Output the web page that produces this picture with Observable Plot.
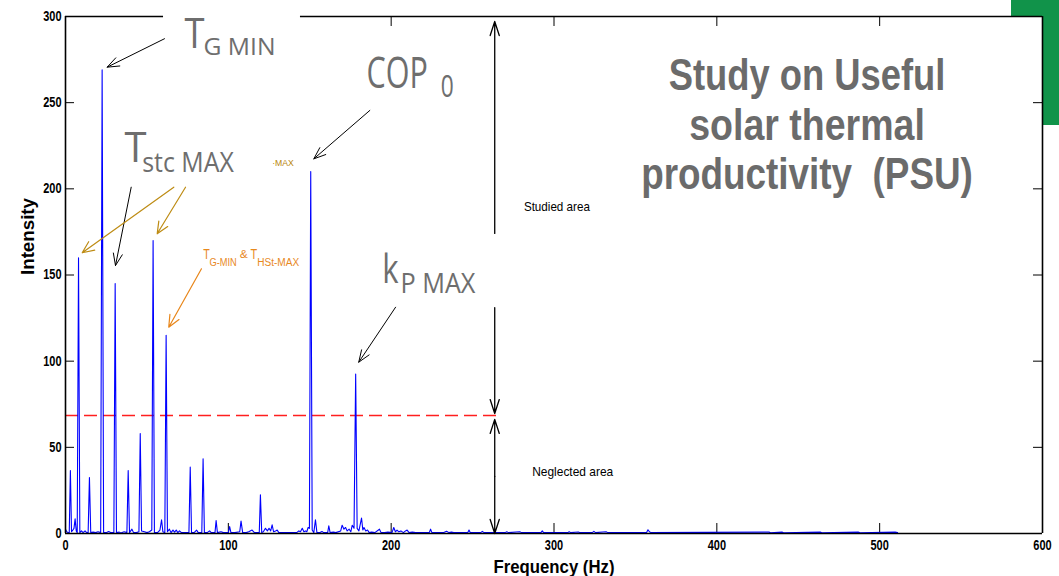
<!DOCTYPE html>
<html><head><meta charset="utf-8">
<script src="https://cdn.jsdelivr.net/npm/d3@7"></script>
<script src="https://cdn.jsdelivr.net/npm/@observablehq/plot@0.6"></script>
<style>
html,body{margin:0;padding:0;background:#fff;}
#wrap{position:relative;width:1059px;height:576px;overflow:hidden;}
#green{position:absolute;left:1011px;top:0;width:48px;height:125px;background:#11934a;}
#chart{position:absolute;left:0;top:0;}
svg text{white-space:pre;}
</style></head><body>
<div id="wrap"><div id="green"></div><div id="chart"></div></div>
<script>
// ---- data ----
const xTicks = [0, 100, 200, 300, 400, 500, 600];
const yTicks = [0, 50, 100, 150, 200, 250, 300];
const threshold = 68.5;          // separation studied / neglected
const thresholdEnd = 265.1;      // Hz where the dashed line stops
const freqHz = [
  0, 0.8, 1.5, 2.3, 3.0, 3.7, 4.5, 5.2, 5.9, 6.6, 7.2, 8.0, 8.8, 9.8, 10.8, 12, 13, 13.9, 14.7, 15.5,
  17, 18.5, 20, 21.6, 22.5, 23.4, 25, 26.5, 28, 29.7, 30.5, 31.3, 33, 34, 36, 37.7, 38.5, 39.3, 40.8, 41.8,
  43.5, 45.1, 45.9, 46.7, 48.5, 50, 51.5, 53, 53.8, 54.6, 56.5, 58, 59.0, 59.8, 61, 61.8, 62.6, 63.8, 64.8, 66,
  67, 68, 69, 70, 71.2, 75.8, 76.6, 77.4, 79, 80.5, 81.5, 83.7, 84.5, 85.3, 87, 88.5, 89.5, 91.8, 92.5, 93.3,
  95.5, 97, 100, 100.8, 101.6, 104, 107, 107.8, 108.8, 111, 112.5, 114.6, 116, 119, 119.7, 120.5, 121.5, 122.8, 124, 125,
  126, 126.9, 127.8, 129, 130, 131, 142, 143.3, 144.3, 145.4, 146.4, 147.4, 148.2, 149, 149.8, 150.6, 151.5, 152.5, 153.5, 154.4,
  156, 157.5, 158.5, 161, 161.7, 162.5, 164.5, 166, 169, 169.9, 171, 172, 173, 174.2, 175.2, 176.1, 177.2, 178.2, 179.1, 180.2,
  181.8, 182.6, 183.3, 184.4, 185.5, 186.5, 188, 190, 192.8, 193.8, 196, 198, 200.5, 201.6, 202.6, 203.6, 204.7, 206, 207.5, 208.8,
  209.8, 211, 213, 215, 223.4, 224.2, 225, 232, 234, 235.5, 237, 238.5, 247, 247.8, 248.6, 255, 256, 257, 270, 271,
  272, 279, 280, 292, 292.8, 293.6, 308.5, 309.3, 310.3, 315, 316, 323.5, 324.5, 325.5, 332, 333, 356.8, 357.7, 358.6, 359.5,
  432, 433, 440, 441, 463.5, 464.5, 486.8, 488, 509.5, 511
];
const intensity = [
  2.5, 1, 0.5, 0.5, 36.5, 1, 2, 3, 8.5, 1.5, 0.5, 160, 0.5, 1.5, 0.5, 1.5, 0.5, 0.5, 32.5, 0.5,
  0.8, 0.5, 1, 0.5, 269, 0.5, 0.5, 1.2, 0.5, 0.5, 145, 0.5, 0.8, 0.3, 1, 0.5, 36.5, 0.5, 2.5, 0.5,
  0.5, 1, 58, 1.5, 1, 0.5, 1, 2, 170, 0.5, 0.5, 2, 8, 1, 0.5, 115, 1, 2.5, 0.5, 2,
  0.8, 2, 0.5, 1.5, 0.5, 0.5, 38.5, 0.5, 0.5, 2, 0.5, 0.5, 43.3, 0.5, 0.5, 1.5, 0.5, 0.5, 7.5, 0.5,
  1, 0.5, 0.5, 4, 0.5, 0.5, 1, 7.2, 0.5, 0.5, 1, 2, 0.5, 0.5, 22.5, 0.5, 1, 3, 1.5, 3,
  1.5, 5, 1, 1.5, 2, 0.5, 0.5, 1.5, 1, 3, 1, 1.5, 1, 3.5, 3, 210, 2, 0.5, 8, 0.5,
  0.5, 1.2, 0.5, 0.5, 4.5, 0.5, 0.8, 0.5, 1.5, 4.8, 2.5, 3.5, 1.5, 2.5, 1, 4.8, 3, 92.5, 3, 1.5,
  9, 2, 3.5, 1.5, 2, 0.5, 0.8, 0.5, 2.5, 0.5, 0.5, 0.8, 0.5, 3.5, 1, 2, 1, 1.5, 0.5, 1.5,
  2, 0.5, 0.8, 0.5, 0.5, 2.5, 0.5, 0.5, 1.3, 0.5, 0.8, 0.5, 0.5, 2, 0.5, 0.5, 1.2, 0.5, 0.5, 1,
  0.5, 1, 0.5, 0.5, 1.5, 0.5, 0.5, 1, 0.5, 0.9, 0.5, 0.5, 1.2, 0.5, 1, 0.5, 0.5, 2.2, 1, 0.5,
  0.8, 0.4, 0.8, 0.4, 0.8, 0.4, 0.8, 0.4, 0.8, 0.5
];
const xAxisTitle = "Frequency (Hz)";
const yAxisTitle = "Intensity";
const titleLines = ["Study on Useful", "solar thermal", "productivity  (PSU)"];

// ---- annotations (data coordinates) ----
const grayLabels = [
  {x: 73.1, y: 282.0, t: "T", s: 42, w: 20},
  {x: 84.75, y: 277.4, t: "G MIN", s: 23.5, w: 72},
  {x: 36.2, y: 215.5, t: "T", s: 42, w: 22},
  {x: 47.1, y: 209.7, t: "stc MAX", s: 28, w: 91.6},
  {x: 184.9, y: 258.6, t: "COP", s: 43, w: 61.3},
  {x: 230.5, y: 253.2, t: "0", s: 31.7, w: 13},
  {x: 194.5, y: 145.1, t: "k", s: 41, w: 16.3},
  {x: 205.7, y: 139.4, t: "P MAX", s: 27.5, w: 75}
];
const colorLabels = [
  {x: 126.9, y: 213.5, t: "·MAX", s: 9, w: 21.6, c: "#b8860b"},
  {x: 84.6, y: 159.2, t: "T", s: 14.4, w: 6.5, c: "#e8891e"},
  {x: 88.4, y: 155.5, t: "G-MIN", s: 10, w: 27.3, c: "#e8891e"},
  {x: 107.0, y: 159.8, t: "&", s: 10, w: 8, c: "#e8891e"},
  {x: 113.6, y: 159.2, t: "T", s: 14.4, w: 6.7, c: "#e8891e"},
  {x: 117.7, y: 155.5, t: "HSt-MAX", s: 10, w: 42, c: "#e8891e"}
];
const areaLabels = [
  {x: 281.5, y: 187.4, t: "Studied area", s: 13, w: 66},
  {x: 286.6, y: 33.25, t: "Neglected area", s: 13.5, w: 81}
];
const titleRows = [
  {x: 455.4, y: 257.1, t: titleLines[0], w: 276.7},
  {x: 455.4, y: 228.1, t: titleLines[1], w: 235.7},
  {x: 455.4, y: 200.1, t: titleLines[2], w: 331.7}
];
const blackArrows = [
  {x1: 60.8, y1: 287.1, x2: 25.6, y2: 270.6},
  {x1: 40.35, y1: 200.95, x2: 30.7, y2: 155.5},
  {x1: 186.9, y1: 245.5, x2: 152.5, y2: 217.4},
  {x1: 202.7, y1: 131.3, x2: 180.1, y2: 99.4}
];
const goldArrows = [
  {x1: 66.5, y1: 200.95, x2: 10.26, y2: 162.9},
  {x1: 73.7, y1: 200.95, x2: 56.3, y2: 173.9}
];
const orangeArrows = [
  {x1: 83.5, y1: 153.6, x2: 63.4, y2: 119.7}
];
const areaArrows = [
  {x1: 263.6, y1: 174.1, x2: 263.6, y2: 297.1},
  {x1: 263.6, y1: 131.1, x2: 263.6, y2: 69.6},
  {x1: 263.6, y1: 33.1, x2: 263.6, y2: 66.2},
  {x1: 263.6, y1: 33.1, x2: 263.6, y2: 0}
];
const topFrame = [{a: 0, b: 60.2}, {a: 144.3, b: 600}];

// ---- layout ----
const W = 1059, H = 576, mL = 65, mR = 17, mT = 16, mB = 43;
const pw = W - mL - mR, ph = H - mT - mB;
const spectrum = freqHz.map((f, i) => ({f, v: intensity[i]}));
const topTicks = xTicks.filter(t => topFrame.some(s => t >= s.a && t <= s.b));
const tickFont = "Liberation Sans, Arial, sans-serif";

const svg = Plot.plot({
  width: W, height: H,
  marginLeft: mL, marginRight: mR, marginTop: mT, marginBottom: mB,
  style: {background: "transparent", overflow: "visible", fontFamily: tickFont, fontSize: "14px", fontWeight: "bold", color: "black"},
  x: {domain: [0, 600]},
  y: {domain: [0, 300]},
  marks: [
    Plot.frame({fill: "white", stroke: "none"}),
    // inward ticks
    Plot.ruleX(xTicks, {x: d => d, insetTop: ph - 10, stroke: "black", strokeWidth: 1}),
    Plot.ruleX(topTicks, {x: d => d, insetBottom: ph - 10, stroke: "black", strokeWidth: 1}),
    Plot.ruleY(yTicks, {y: d => d, insetRight: pw - 9, stroke: "black", strokeWidth: 1}),
    Plot.ruleY(yTicks, {y: d => d, insetLeft: pw - 9, stroke: "black", strokeWidth: 1}),
    // threshold
    Plot.ruleY([threshold], {x1: 0, x2: thresholdEnd, stroke: "#ff1f1f", strokeWidth: 1.4, strokeDasharray: "13,6"}),
    // spectrum
    Plot.line(spectrum, {x: "f", y: "v", stroke: "#0000ff", strokeWidth: 1.1}),
    // frame lines
    Plot.ruleY([0], {stroke: "black", strokeWidth: 1.6}),
    Plot.ruleX([0, 600], {stroke: "black", strokeWidth: 1.6}),
    Plot.ruleY(topFrame, {y: 300, x1: "a", x2: "b", stroke: "black", strokeWidth: 1.6}),
    // axes
    Plot.axisX(xTicks, {anchor: "bottom", tickSize: 0, tickPadding: 7, label: null, fontSize: 14, fontWeight: "bold", fontFamily: tickFont}),
    Plot.axisY(yTicks, {anchor: "left", tickSize: 0, tickPadding: 4, label: null, fontSize: 14, fontWeight: "bold", fontFamily: tickFont}),
    Plot.text([xAxisTitle], {frameAnchor: "bottom", dy: 39, lineAnchor: "bottom", fontSize: 17.5, fontWeight: "bold", fontFamily: tickFont, fill: "black", ariaDescription: "xtitle"}),
    Plot.text([yAxisTitle], {frameAnchor: "left", dx: -36.7, rotate: -90, fontSize: 17.5, fontWeight: "bold", fontFamily: tickFont, fill: "black", ariaDescription: "ytitle"}),
    // arrows
    Plot.arrow(blackArrows, {x1: "x1", y1: "y1", x2: "x2", y2: "y2", stroke: "black", strokeWidth: 1, headLength: 19, headAngle: 42}),
    Plot.arrow(goldArrows, {x1: "x1", y1: "y1", x2: "x2", y2: "y2", stroke: "#be8c14", strokeWidth: 1.2, headLength: 16, headAngle: 48}),
    Plot.arrow(orangeArrows, {x1: "x1", y1: "y1", x2: "x2", y2: "y2", stroke: "#e8861a", strokeWidth: 1.2, headLength: 16, headAngle: 48}),
    Plot.arrow(areaArrows, {x1: "x1", y1: "y1", x2: "x2", y2: "y2", stroke: "black", strokeWidth: 1.3, headLength: 17, headAngle: 36}),
    // labels
    Plot.text(grayLabels, {x: "x", y: "y", text: "t", fontSize: "s", textAnchor: "start", lineAnchor: "bottom", fill: "#6e6e6e", fontFamily: "Open Sans, Lato, sans-serif", fontWeight: "normal", ariaDescription: "gray"}),
    Plot.text(colorLabels, {x: "x", y: "y", text: "t", fontSize: "s", fill: "c", textAnchor: "start", lineAnchor: "bottom", fontFamily: tickFont, fontWeight: "normal", ariaDescription: "color"}),
    Plot.text(areaLabels, {x: "x", y: "y", text: "t", fontSize: "s", textAnchor: "start", lineAnchor: "bottom", fill: "black", fontFamily: tickFont, fontWeight: "normal", ariaDescription: "area"}),
    Plot.text(titleRows, {x: "x", y: "y", text: "t", fontSize: 44, textAnchor: "middle", lineAnchor: "bottom", fill: "#6b6b6b", fontFamily: tickFont, fontWeight: "bold", ariaDescription: "title"})
  ]
});
document.getElementById("chart").appendChild(svg);

// fit text widths to the reference's condensed lettering
function fit(desc, rows) {
  svg.querySelectorAll(`g[aria-description="${desc}"] text`).forEach((n, i) => {
    if (rows[i] && rows[i].w) { n.setAttribute("textLength", rows[i].w); n.setAttribute("lengthAdjust", "spacingAndGlyphs"); }
  });
}
fit("gray", grayLabels); fit("color", colorLabels); fit("area", areaLabels); fit("title", titleRows);
fit("xtitle", [{w: 121}]); fit("ytitle", [{w: 77}]);
svg.querySelectorAll('g[aria-label="x-axis tick label"] text, g[aria-label="y-axis tick label"] text').forEach(n => {
  const len = n.textContent.length;
  n.setAttribute("textLength", 6.1 * len); n.setAttribute("lengthAdjust", "spacingAndGlyphs");
});
</script></body></html>
